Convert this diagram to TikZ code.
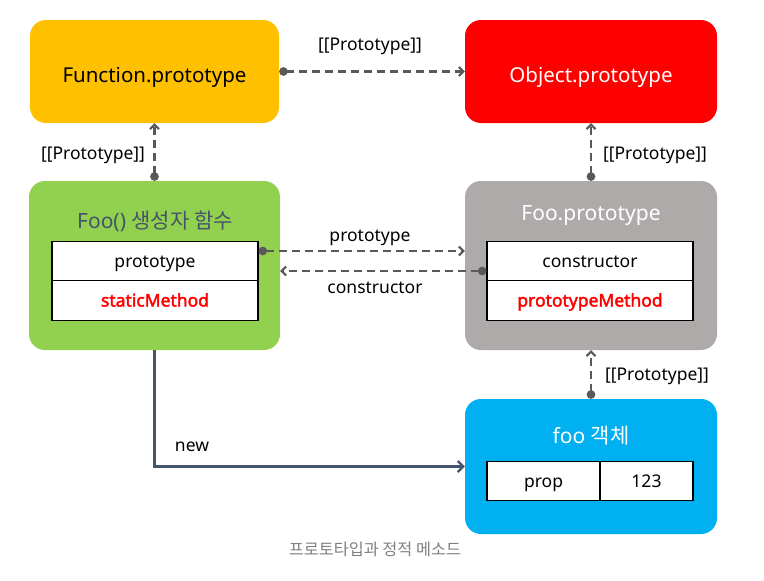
\documentclass[tikz,border=0pt]{standalone}
\usepackage{fontspec}
\setmainfont{Noto Sans}
\newfontfamily\boldsans[FakeBold=2.2]{Noto Sans}
\newfontfamily\cjk{Noto Sans CJK KR}
\usetikzlibrary{arrows.meta}
\definecolor{fpcol}{HTML}{FFC000}
\definecolor{opcol}{HTML}{FF0000}
\definecolor{foocol}{HTML}{92D050}
\definecolor{fprcol}{HTML}{AEAAAA}
\definecolor{objcol}{HTML}{00B0F0}
\definecolor{linecol}{HTML}{595959}
\definecolor{newcol}{HTML}{44546A}
\definecolor{capcol}{HTML}{808080}
\tikzset{
  bigbox/.style={rounded corners=16pt, inner sep=0pt, text height=22pt, text depth=1pt, font=\fontsize{20.5}{24}\selectfont},
  cell/.style={draw=black, fill=white, line width=1.1pt, inner sep=0pt, minimum height=39.5pt, text height=13pt, text depth=1pt, font=\fontsize{17.5}{20}\selectfont},
  redcell/.style={cell, text=opcol, font=\boldsans\fontsize{17.5}{20}\selectfont},
  title/.style={anchor=base, inner sep=0pt, font=\fontsize{21}{24}\selectfont},
  lbl/.style={anchor=base, inner sep=0pt, font=\fontsize{17.5}{20}\selectfont},
  dasharrow/.style={draw=linecol, line width=2.6pt, dash pattern=on 8pt off 5pt,
    {Circle[length=8.5pt]}-{Straight Barb[length=4.5pt,width=9pt,line width=2pt]}},
  newarrow/.style={draw=newcol, line width=2.6pt, -{Straight Barb[length=5.5pt,width=11pt,line width=2.2pt]}}
}
\begin{document}
\begin{tikzpicture}[x=1pt,y=-1pt]
\useasboundingbox[fill=white] (0,0) rectangle (764,581);
% boxes
\node[bigbox, fill=fpcol, minimum width=249pt, minimum height=103pt] (fp) at (154.5,71.5) {Function.prototype};
\node[bigbox, fill=opcol, text=white, minimum width=252pt, minimum height=103pt] (op) at (591,71.5) {Object.prototype};
\node[bigbox, fill=foocol, minimum width=251pt, minimum height=169pt] (foo) at (154.5,265.5) {};
\node[bigbox, fill=fprcol, minimum width=252pt, minimum height=169pt] (fpr) at (591,265.5) {};
\node[bigbox, fill=objcol, minimum width=252pt, minimum height=135pt] (obj) at (591,466.5) {};
% titles
\node[title, text=newcol] (footitle) at (155,228) {Foo() {\cjk 생성자 함수}};
\node[title, text=white] (fprtitle) at (591,220) {Foo.prototype};
\node[title, text=white] (objtitle) at (591,443.5) {foo {\cjk 객체}};
% cells
\node[cell, minimum width=206pt] (c1) at (155,261) {prototype};
\node[redcell, minimum width=206pt] (c2) at (155,300.5) {staticMethod};
\node[cell, minimum width=206pt] (c3) at (590,261) {constructor};
\node[redcell, minimum width=206pt] (c4) at (590,300.5) {prototypeMethod};
\node[cell, minimum width=113pt] (c5) at (543.5,481) {prop};
\node[cell, minimum width=93pt] (c6) at (646.5,481) {123};
% connectors
\draw[dasharrow] (fp.east) -- (op.west);
\draw[dasharrow] (foo.north) -- (fp.south);
\draw[dasharrow] (fpr.north) -- (op.south);
\draw[dasharrow] (obj.north) -- (fpr.south);
\coordinate (pa) at ([yshift=10pt]c1.east);
\coordinate (pb) at (pa -| fpr.west);
\draw[dasharrow] (pa) -- (pb);
\coordinate (ca) at ([yshift=-10pt]c3.west);
\coordinate (cb) at (ca -| foo.east);
\draw[dasharrow] (ca) -- (cb);
\draw[newarrow] (foo.south) |- (obj.west);
% labels
\node[lbl] (l1) at (370,50) {[[Prototype]]};
\node[lbl] (l2) at (93,159) {[[Prototype]]};
\node[lbl] (l3) at (655,159) {[[Prototype]]};
\node[lbl] (l4) at (657,380) {[[Prototype]]};
\node[lbl] (l5) at (370,241.5) {prototype};
\node[lbl] (l6) at (375,293.5) {constructor};
\node[lbl] (l7) at (192,451) {new};
\node[text=capcol, font=\cjk\fontsize{16.3}{19}\selectfont] (cap) at (375,549) {프로토타입과 정적 메소드};
\end{tikzpicture}
\end{document}
